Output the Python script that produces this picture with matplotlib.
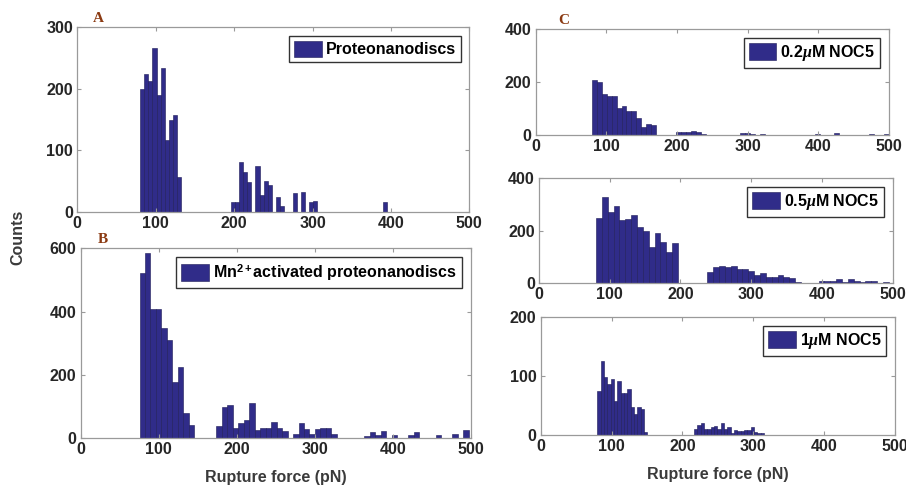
import numpy as np
import matplotlib
matplotlib.use("Agg")
import matplotlib.pyplot as plt

plt.rcParams['font.family'] = ['Liberation Sans', 'DejaVu Sans']
plt.rcParams['font.weight'] = 'bold'
plt.rcParams['axes.labelweight'] = 'bold'
plt.rcParams['mathtext.fontset'] = 'custom'
plt.rcParams['mathtext.rm'] = 'Liberation Sans:bold'
plt.rcParams['mathtext.bf'] = 'Liberation Sans:bold'
plt.rcParams['mathtext.it'] = 'Liberation Serif:italic'

# histogram data: bin start (pN), bin width (pN), occupied bin indices, counts
a_start, a_width = 80.0, 5.26
a_bins = list(range(0, 10)) + [22, 23, 24, 25, 26, 28, 29, 30, 31, 33, 34, 37, 39, 41, 42, 59]
a_counts = [200, 223, 213, 266, 189, 234, 116, 149, 158, 57,
            17, 16, 81, 65, 49, 74, 27, 51, 44, 24, 10, 31, 33, 17, 18, 17]

b_start, b_width = 75.4, 7.03
b_bins = (list(range(0, 10)) + list(range(14, 27)) + list(range(28, 36))
          + [41, 42, 43, 44, 46, 49, 50, 54, 57, 59])
b_counts = [521, 585, 408, 408, 348, 312, 178, 225, 81, 41,
            39, 98, 106, 34, 49, 58, 110, 26, 32, 32, 53, 34, 23,
            13, 47, 28, 14, 28, 34, 32, 13,
            8, 20, 10, 24, 9, 12, 19, 9, 13, 25]

c1_start, c1_width = 79.7, 7.0
c1_bins = list(range(0, 13)) + list(range(17, 23)) + [30, 31, 32, 34, 45, 49, 56, 59]
c1_counts = [208, 200, 155, 147, 147, 101, 110, 91, 91, 63, 32, 42, 36,
             10, 13, 10, 16, 11, 5, 8, 9, 4, 3, 5, 6, 5, 4]

c2_start, c2_width = 80.5, 8.28
c2_bins = list(range(0, 14)) + list(range(19, 35)) + list(range(38, 48)) + [49]
c2_counts = [250, 328, 273, 294, 241, 246, 260, 216, 200, 140, 193, 157, 118, 152,
             44, 63, 67, 61, 66, 53, 53, 47, 32, 38, 25, 25, 32, 25, 19, 6,
             9, 9, 9, 15, 6, 15, 10, 6, 9, 10, 6]

c3_start, c3_width = 80.0, 4.7
c3_bins = list(range(0, 15)) + list(range(29, 50))
c3_counts = [74, 125, 99, 87, 96, 57, 91, 71, 72, 79, 47, 36, 48, 45, 5,
             10, 17, 20, 11, 10, 14, 15, 11, 21, 11, 13, 4, 8, 7, 7, 8, 8, 14, 5, 3, 4]

labels = ['Proteonanodiscs', r'Mn$^{\mathbf{2+}}$activated proteonanodiscs',
          r'0.2$\mu$M NOC5', r'0.5$\mu$M NOC5', r'1$\mu$M NOC5']
y_ticks = [[0, 100, 200, 300], [0, 200, 400, 600], [0, 200, 400], [0, 200, 400], [0, 100, 200]]
x_ticks = [0, 100, 200, 300, 400, 500]

bar_color = '#302c89'
edge_color = '#1c1957'
frame_grey = '#9a9a9a'

W, H = 906, 491
fig = plt.figure(figsize=(W / 100, H / 100), dpi=100)


def px_axes(left, top, right, bottom):
    return fig.add_axes([left / W, 1 - bottom / H, (right - left) / W, (bottom - top) / H])


axes = [px_axes(77.3, 27, 469.3, 212),
        px_axes(80.7, 248.3, 470.7, 438.3),
        px_axes(535.5, 29.3, 889, 135),
        px_axes(539, 178.3, 892.7, 283.3),
        px_axes(540.7, 317.3, 895, 435)]

data = [(a_start, a_width, a_bins, a_counts),
        (b_start, b_width, b_bins, b_counts),
        (c1_start, c1_width, c1_bins, c1_counts),
        (c2_start, c2_width, c2_bins, c2_counts),
        (c3_start, c3_width, c3_bins, c3_counts)]

for ax, (start, width, bins, counts), lab, yt in zip(axes, data, labels, y_ticks):
    left = start + np.array(bins) * width
    ax.bar(left, counts, width=width, align='edge', color=bar_color,
           edgecolor=edge_color, linewidth=0.4, label=lab)
    ax.set_xlim(0, 500)
    ax.set_ylim(yt[0], yt[-1])
    ax.set_xticks(x_ticks)
    ax.set_yticks(yt)
    ax.tick_params(direction='in', length=3, width=0.8, color=frame_grey,
                   top=True, right=True, labelsize=11.5, pad=3, labelcolor='#262626')
    for s in ax.spines.values():
        s.set_color(frame_grey)
        s.set_linewidth(0.9)
    leg = ax.legend(loc='upper right', fontsize=11.5, handlelength=1.75, handleheight=1.2,
                    handletextpad=0.25, borderpad=0.3, borderaxespad=0.55,
                    fancybox=False, framealpha=1)
    leg.get_frame().set_edgecolor('#333333')
    leg.get_frame().set_linewidth(1.0)

for ax in (axes[1], axes[4]):
    ax.set_xlabel('Rupture force (pN)', fontsize=11.5, fontweight='bold',
                  color='#3a3a3a', labelpad=9)

fig.text(18 / W, 1 - 237 / H, 'Counts', rotation=90, ha='center', va='center',
         fontsize=11.5, fontweight='bold', color='#3a3a3a')

letter_style = dict(family='Liberation Serif', weight='bold', fontsize=11,
                    color='#8b3a12', ha='center', va='center')
fig.text(98 / W, 1 - 18 / H, 'A', **letter_style)
fig.text(103 / W, 1 - 239 / H, 'B', **letter_style)
fig.text(564 / W, 1 - 20 / H, 'C', **letter_style)

fig.savefig('out.png', dpi=100, facecolor='white')
